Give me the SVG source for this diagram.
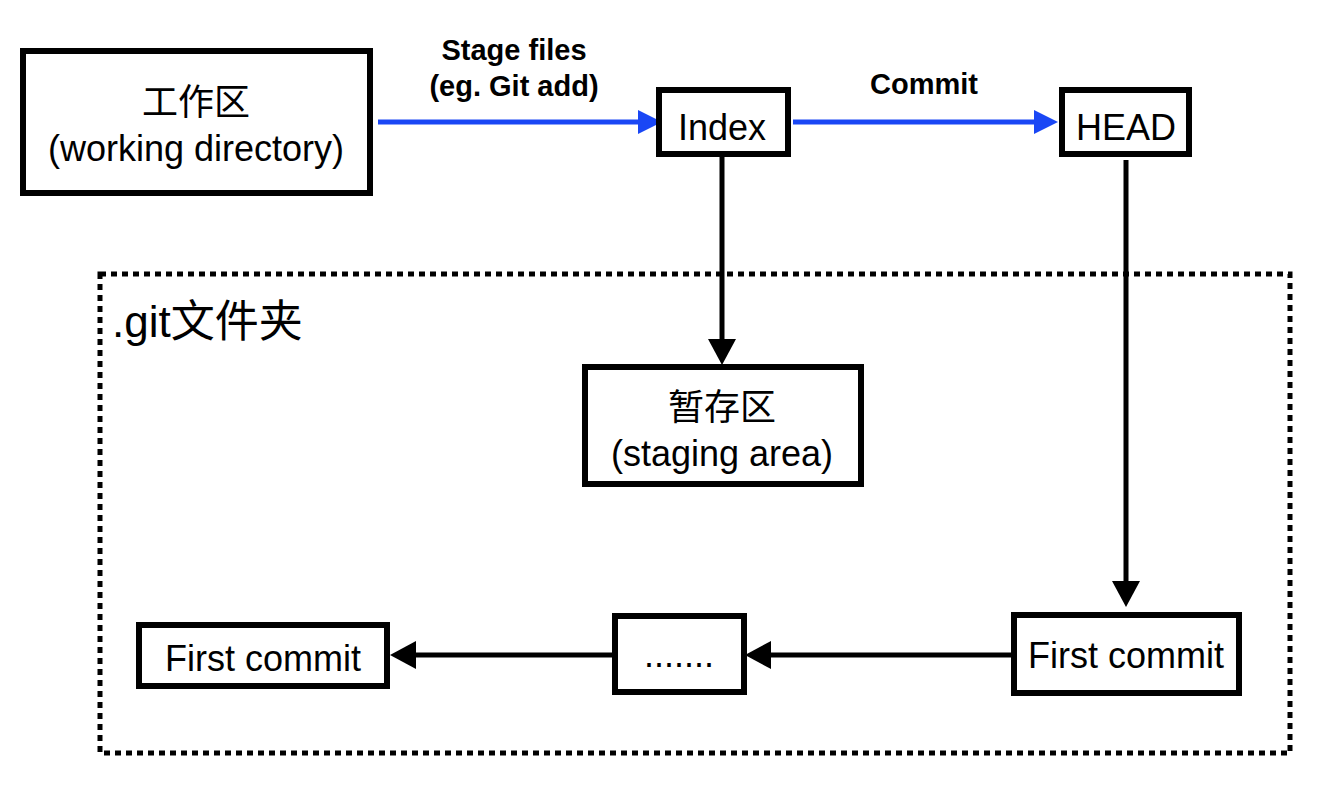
<svg xmlns="http://www.w3.org/2000/svg" width="1334" height="806" viewBox="0 0 1334 806">
<style>
  .box{fill:#fff;stroke:#000;stroke-width:6}
  .lbl{font-family:"Liberation Sans","Noto Sans CJK SC",sans-serif;font-size:36px;fill:#000;text-anchor:middle}
  .edge{font-family:"Liberation Sans","Noto Sans CJK SC",sans-serif;font-size:29px;font-weight:bold;fill:#000;text-anchor:middle}
  .blk{fill:none;stroke:#000;stroke-width:5}
  .blu{fill:none;stroke:#1a47f5;stroke-width:5}
</style>
<defs>
  <marker id="ah" markerUnits="userSpaceOnUse" markerWidth="26" markerHeight="28" refX="0" refY="14" orient="auto">
    <path d="M0,0 L26,14 L0,28 z" fill="#000"/>
  </marker>
  <marker id="ahb" markerUnits="userSpaceOnUse" markerWidth="24" markerHeight="24" refX="0" refY="12" orient="auto">
    <path d="M0,0 L24,12 L0,24 z" fill="#1a47f5"/>
  </marker>
</defs>
<rect width="1334" height="806" fill="#fff"/>
<g id="gitfolder">
  <rect x="100" y="274" width="1190" height="479" fill="none" stroke="#000" stroke-width="5" stroke-dasharray="6 5"/>
  <text x="112" y="337" font-family="Liberation Sans,Noto Sans CJK SC,sans-serif" font-size="44" fill="#000">.git文件夹</text>
</g>
<g id="connectors">
  <path class="blu" d="M378,122 H638" marker-end="url(#ahb)"/>
  <path class="blu" d="M793,122 H1034" marker-end="url(#ahb)"/>
  <path class="blk" d="M722,155 V339" marker-end="url(#ah)"/>
  <path class="blk" d="M1126,160 V581" marker-end="url(#ah)"/>
  <path class="blk" d="M1013,655 H771" marker-end="url(#ah)"/>
  <path class="blk" d="M613,655 H416" marker-end="url(#ah)"/>
  <text class="edge" x="514" y="60">Stage files</text>
  <text class="edge" x="514" y="96">(eg. Git add)</text>
  <text class="edge" x="924" y="94">Commit</text>
</g>
<g id="workdir">
  <rect class="box" x="23" y="51" width="347" height="142"/>
  <text class="lbl" x="196" y="115">工作区</text>
  <text class="lbl" x="196" y="161">(working directory)</text>
</g>
<g id="index">
  <rect class="box" x="659" y="90" width="129" height="64"/>
  <text class="lbl" x="722" y="140">Index</text>
</g>
<g id="head">
  <rect class="box" x="1062" y="90" width="127" height="64"/>
  <text class="lbl" x="1126" y="140">HEAD</text>
</g>
<g id="staging">
  <rect class="box" x="585" y="367" width="276" height="117"/>
  <text class="lbl" x="722" y="420">暂存区</text>
  <text class="lbl" x="722" y="466">(staging area)</text>
</g>
<g id="commit-new">
  <rect class="box" x="1014" y="615" width="225" height="78"/>
  <text class="lbl" x="1126" y="668">First commit</text>
</g>
<g id="ellipsis">
  <rect class="box" x="615" y="616" width="129" height="76"/>
  <text class="lbl" x="679" y="667">.......</text>
</g>
<g id="commit-first">
  <rect class="box" x="139" y="625" width="248" height="61"/>
  <text class="lbl" x="263" y="671">First commit</text>
</g>
</svg>
